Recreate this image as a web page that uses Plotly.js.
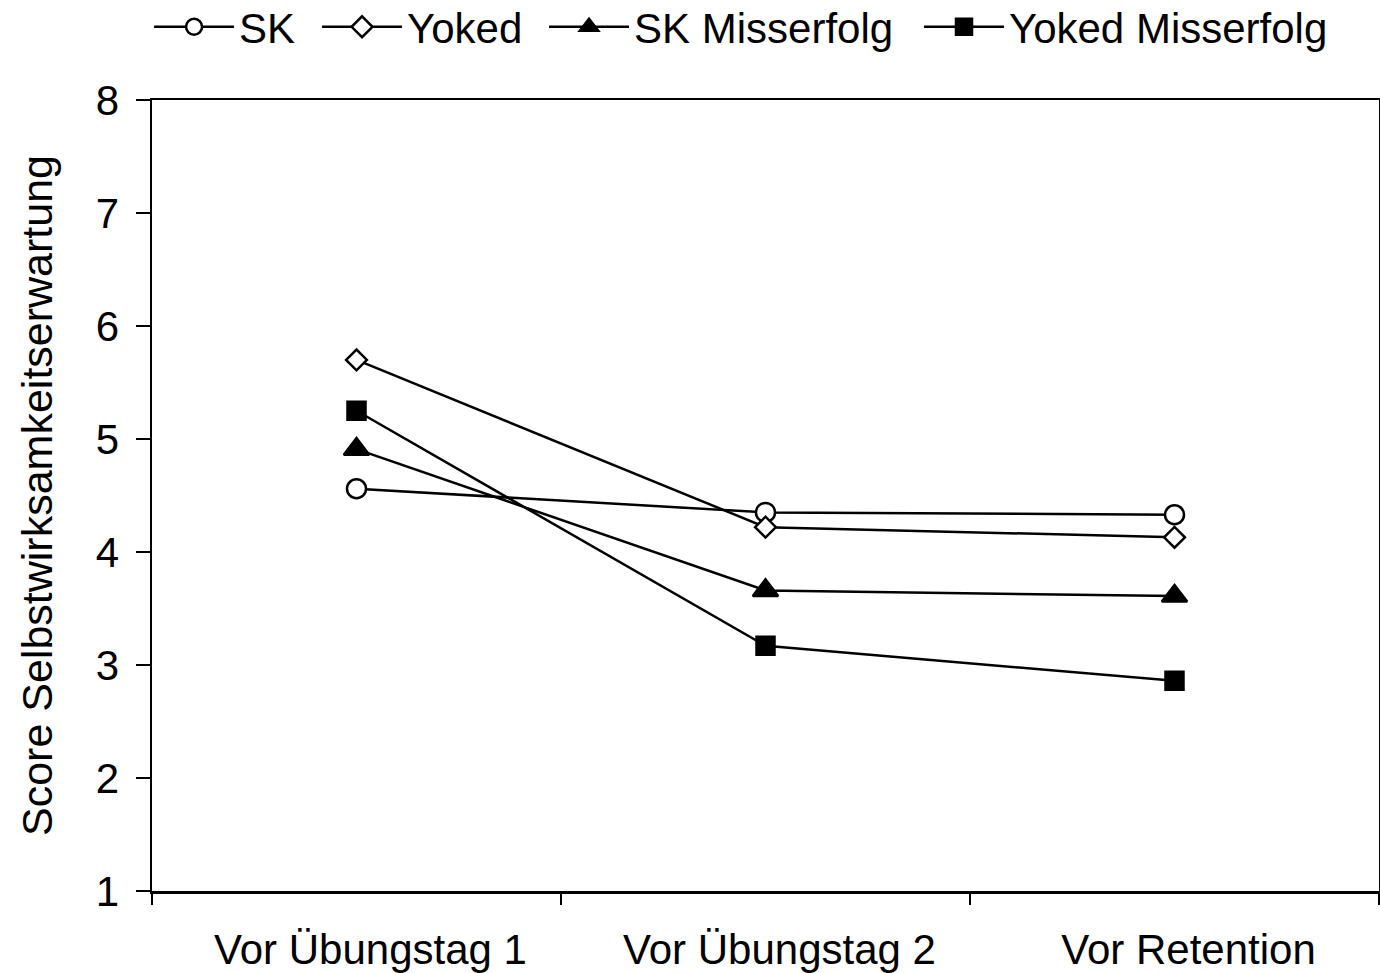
<!DOCTYPE html>
<html>
<head>
<meta charset="utf-8">
<script src="https://cdn.plot.ly/plotly-3.0.1.min.js"></script>
<style>html,body{margin:0;padding:0;background:#fff}#chart{width:1380px;height:973px}</style>
</head>
<body>
<div id="chart"></div>
<script>
const categories = ["Vor Übungstag 1", "Vor Übungstag 2", "Vor Retention"];
const sk = [4.56, 4.35, 4.33];
const yoked = [5.70, 4.22, 4.13];
const skMisserfolg = [4.91, 3.66, 3.61];
const yokedMisserfolg = [5.25, 3.17, 2.86];
const seriesNames = ["SK", "Yoked", "SK Misserfolg", "Yoked Misserfolg"];

const font = "Liberation Sans, Arial, sans-serif";
function tr(name, y, symbol, size, fill, leg) {
  return {
    x: categories, y: y, name: name, type: "scatter", mode: "lines+markers",
    legend: leg,
    line: {color: "#000", width: 2.5},
    marker: {symbol: symbol, size: size, color: fill, line: {color: "#000", width: 2.5}}
  };
}
const data = [
  tr(seriesNames[0], sk, "circle", 19, "#fff", "legend"),
  tr(seriesNames[1], yoked, "diamond", 16, "#fff", "legend2"),
  tr(seriesNames[2], skMisserfolg, "triangle-up", 22, "#000", "legend3"),
  tr(seriesNames[3], yokedMisserfolg, "square", 18, "#000", "legend4")
];
function leg(x) {
  return {orientation: "h", x: x, xanchor: "left", y: 1.0923, yanchor: "middle",
          font: {family: font, size: 42, color: "#000"}, itemwidth: 80,
          bgcolor: "rgba(0,0,0,0)", borderwidth: 0};
}
const layout = {
  width: 1380, height: 973,
  margin: {l: 152, r: 1, t: 100, b: 82, autoexpand: false},
  paper_bgcolor: "#fff", plot_bgcolor: "#fff",
  font: {family: font, size: 42, color: "#000"},
  showlegend: true,
  legend: leg(-0.0024),
  legend2: leg(0.1345),
  legend3: leg(0.3195),
  legend4: leg(0.6251),
  xaxis: {type: "category", range: [-0.5, 2.5], tickson: "boundaries",
          ticks: "outside", ticklen: 11, tickwidth: 2, tickcolor: "#000",
          showline: true, linecolor: "#000", linewidth: 2.5, mirror: true,
          showgrid: false, zeroline: false, ticklabelstandoff: 20, ticklabelshift: 14,
          tickfont: {family: font, size: 42, color: "#000"}},
  yaxis: {range: [1, 8], tickvals: [1, 2, 3, 4, 5, 6, 7, 8], ticks: "outside", ticklen: 14,
          tickwidth: 2, tickcolor: "#000", showline: true, linecolor: "#000", linewidth: 2.5,
          mirror: true, showgrid: false, zeroline: false, ticklabelstandoff: 8,
          tickfont: {family: font, size: 42, color: "#000"},
          title: {text: "Score Selbstwirksamkeitserwartung", standoff: 30,
                  font: {family: font, size: 43, color: "#000"}}}
};
Plotly.newPlot("chart", data, layout, {displayModeBar: false, staticPlot: true});
</script>
</body>
</html>
